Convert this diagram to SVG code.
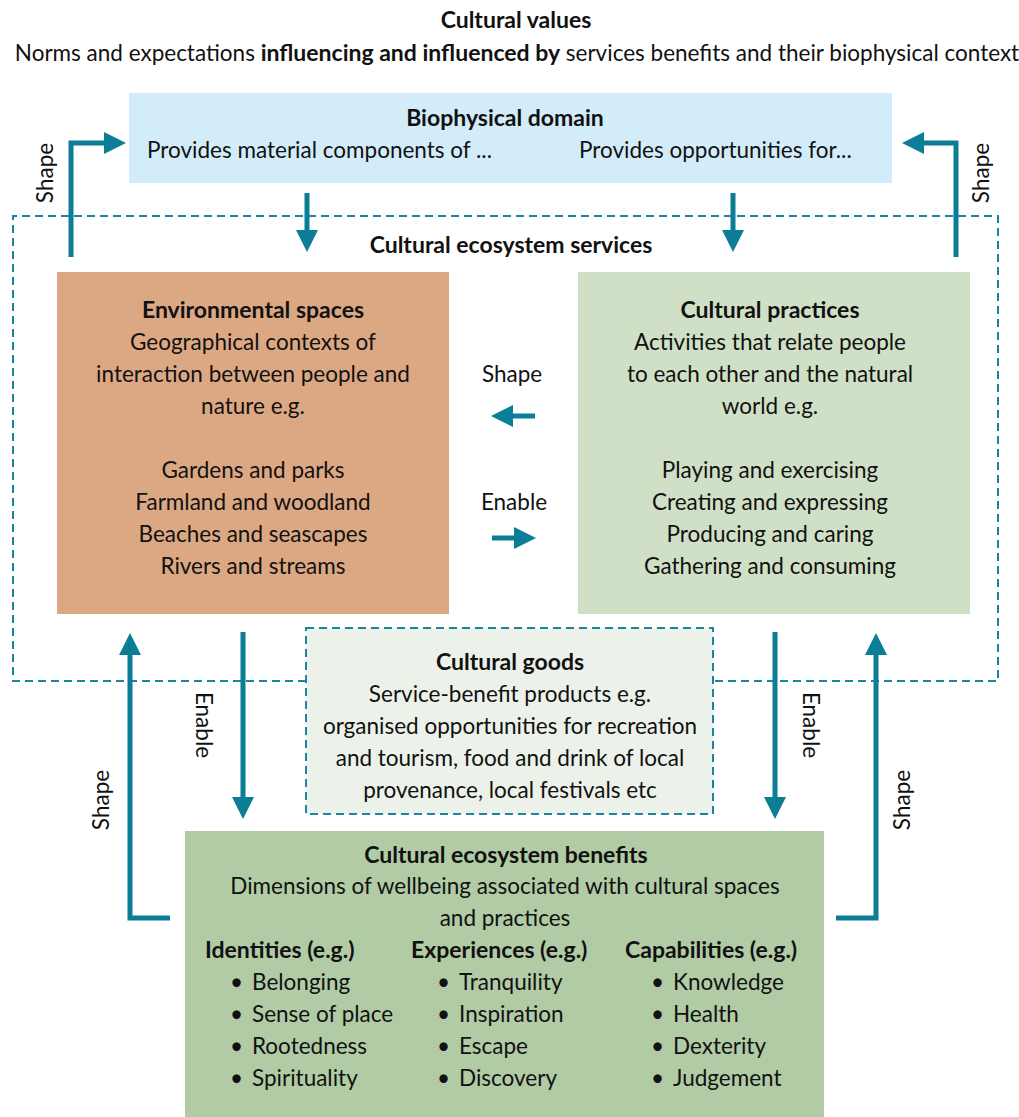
<svg xmlns="http://www.w3.org/2000/svg" width="1019" height="1117" viewBox="0 0 1019 1117">
<style>
text{font-family:Lato,"Open Sans","Liberation Sans",sans-serif;font-size:22.5px;fill:#111}
.b{font-weight:bold;font-size:23px}
.c{text-anchor:middle}
.arr{fill:none;stroke:#0b7d96;stroke-width:5;marker-end:url(#ah)}
.dash{fill:none;stroke:#1b84a0;stroke-width:2;stroke-dasharray:8 5}
</style>
<defs>
<marker id="ah" markerUnits="userSpaceOnUse" markerWidth="22" markerHeight="22" refX="0" refY="11" orient="auto">
<path d="M0,0 L22,11 L0,22 z" fill="#0b7d96"/>
</marker>
</defs>
<rect width="1019" height="1117" fill="#fff"/>

<g id="title">
<text class="c b" x="516" y="28">Cultural values</text>
<text class="c" x="517" y="61">Norms and expectations <tspan class="b">influencing and influenced by</tspan> services benefits and their biophysical context</text>
</g>

<g id="services-boundary">
<path class="dash" d="M306,681 H13 V216 H998 V681 H713"/>
<text class="c b" x="511" y="253">Cultural ecosystem services</text>
</g>

<g id="biophysical">
<rect x="129" y="93" width="763" height="90" fill="#d3ecf9"/>
<text class="c b" x="505" y="126">Biophysical domain</text>
<text x="147" y="158">Provides material components of ...</text>
<text x="579" y="158">Provides opportunities for...</text>
</g>

<g id="environmental-spaces">
<rect x="57" y="272" width="392" height="342" fill="#dca883"/>
<text class="c b" x="253" y="318">Environmental spaces</text>
<text class="c" x="253" y="350">Geographical contexts of</text>
<text class="c" x="253" y="382">interaction between people and</text>
<text class="c" x="253" y="414">nature e.g.</text>
<text class="c" x="253" y="478">Gardens and parks</text>
<text class="c" x="253" y="510">Farmland and woodland</text>
<text class="c" x="253" y="542">Beaches and seascapes</text>
<text class="c" x="253" y="574">Rivers and streams</text>
</g>

<g id="cultural-practices">
<rect x="578" y="272" width="392" height="342" fill="#d0e0c6"/>
<text class="c b" x="770" y="318">Cultural practices</text>
<text class="c" x="770" y="350">Activities that relate people</text>
<text class="c" x="770" y="382">to each other and the natural</text>
<text class="c" x="770" y="414">world e.g.</text>
<text class="c" x="770" y="478">Playing and exercising</text>
<text class="c" x="770" y="510">Creating and expressing</text>
<text class="c" x="770" y="542">Producing and caring</text>
<text class="c" x="770" y="574">Gathering and consuming</text>
</g>

<g id="cultural-goods">
<rect class="dash" x="306" y="628" width="407" height="186" style="fill:#ecf1ea"/>
<text class="c b" x="510" y="670">Cultural goods</text>
<text class="c" x="510" y="702">Service-benefit products e.g.</text>
<text class="c" x="510" y="734">organised opportunities for recreation</text>
<text class="c" x="510" y="766">and tourism, food and drink of local</text>
<text class="c" x="510" y="798">provenance, local festivals etc</text>
</g>

<g id="cultural-benefits">
<rect x="185" y="831" width="639" height="286" fill="#b1cba5"/>
<text class="c b" x="506" y="863">Cultural ecosystem benefits</text>
<text class="c" x="505" y="894">Dimensions of wellbeing associated with cultural spaces</text>
<text class="c" x="505" y="926">and practices</text>
<text class="b" x="205" y="958">Identities (e.g.)</text>
<text class="b" x="411" y="958">Experiences (e.g.)</text>
<text class="b" x="625" y="958">Capabilities (e.g.)</text>
<text x="230" y="990">•</text><text x="252" y="990">Belonging</text>
<text x="230" y="1022">•</text><text x="252" y="1022">Sense of place</text>
<text x="230" y="1054">•</text><text x="252" y="1054">Rootedness</text>
<text x="230" y="1086">•</text><text x="252" y="1086">Spirituality</text>
<text x="437" y="990">•</text><text x="459" y="990">Tranquility</text>
<text x="437" y="1022">•</text><text x="459" y="1022">Inspiration</text>
<text x="437" y="1054">•</text><text x="459" y="1054">Escape</text>
<text x="437" y="1086">•</text><text x="459" y="1086">Discovery</text>
<text x="651" y="990">•</text><text x="673" y="990">Knowledge</text>
<text x="651" y="1022">•</text><text x="673" y="1022">Health</text>
<text x="651" y="1054">•</text><text x="673" y="1054">Dexterity</text>
<text x="651" y="1086">•</text><text x="673" y="1086">Judgement</text>
</g>

<g id="connectors">
<path class="arr" d="M71,257 V143 H104"/>
<path class="arr" d="M956,257 V143 H924"/>
<path class="arr" d="M307,193 V230"/>
<path class="arr" d="M733,193 V230"/>
<path class="arr" d="M535,416 H513"/>
<path class="arr" d="M492,538 H514"/>
<path class="arr" d="M170,918 H130 V655"/>
<path class="arr" d="M243,632 V797"/>
<path class="arr" d="M775,632 V797"/>
<path class="arr" d="M836,918 H876 V655"/>
<text class="c" transform="translate(53,173) rotate(-90)" x="0" y="0">Shape</text>
<text class="c" transform="translate(989,173) rotate(-90)" x="0" y="0">Shape</text>
<text class="c" x="512" y="382">Shape</text>
<text class="c" x="514" y="510">Enable</text>
<text class="c" transform="translate(196,725) rotate(90)" x="0" y="0">Enable</text>
<text class="c" transform="translate(109,800) rotate(-90)" x="0" y="0">Shape</text>
<text class="c" transform="translate(803,725) rotate(90)" x="0" y="0">Enable</text>
<text class="c" transform="translate(910,800) rotate(-90)" x="0" y="0">Shape</text>
</g>
</svg>
